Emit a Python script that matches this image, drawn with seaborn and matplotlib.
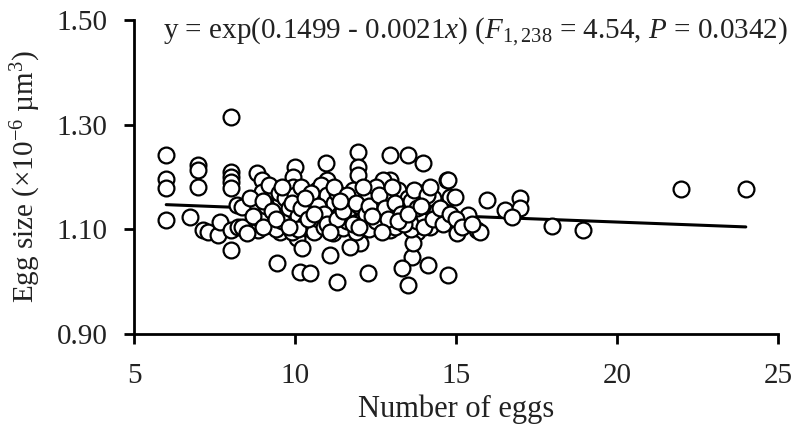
import matplotlib
matplotlib.use("Agg")
import matplotlib.pyplot as plt
import seaborn as sns
import numpy as np
import pandas as pd

# ---- data ----
egg_count = [
    6, 6, 6, 6, 6.74, 7, 7, 7, 7.14, 7.3, 7.6, 7.67,
    8, 8, 8, 8, 8, 8, 8, 8.2, 8.23,
    8.82, 8.98, 10.0, 9.94, 9.94, 10.96, 10.99, 8.98, 9.53, 8.76, 10.37, 10.56,
    9.84, 8.85, 9.53, 10.37, 11.34, 11.4, 8.35, 8.35, 10.06, 10.22, 11.09, 9.44,
    10.16, 10.47, 11.3, 10.78, 11.0, 9.3, 10.68, 11.18, 8.5, 9.16, 9.69,
    11.96, 11.96, 11.96, 12.95, 13.5, 13.98, 12.95, 12.73, 14.72, 14.81, 11.96,
    12.39, 11.77, 12.27, 13.2, 13.57, 14.25, 14.66, 12.95, 13.79, 11.49, 12.02,
    11.7, 13.63, 13.32, 14.13, 12.27, 13.5, 13.66, 12.64, 13.42, 13.98, 12.42, 12.73,
    14.75, 14.97, 15.96, 14.75, 15.37, 15.65, 15.03, 15.75, 16.52, 16.99, 16.99,
    16.74, 17.98, 18.94, 14.75, 22, 24,
    8.6, 8.9, 9.1, 9.2, 9.4, 9.5, 9.6, 9.7, 9.8, 9.9, 10.0, 10.1, 10.2, 10.3,
    10.4, 10.5, 10.6, 10.7, 10.8, 10.9, 11.0, 11.1, 11.2, 11.3, 11.4, 11.5, 11.6,
    11.7, 11.8, 11.9, 12.0, 12.1, 12.2, 12.3, 12.4, 12.5, 12.6, 12.7, 12.8, 12.9,
    13.0, 13.1, 13.2, 13.3, 13.4, 13.5, 13.6, 13.7, 13.8, 13.9, 14.0, 14.1, 14.2,
    14.3, 14.4,
    8.7, 9.0, 9.3, 9.6, 9.9, 10.1, 10.2, 10.4, 10.5, 10.7, 10.9, 11.0, 11.2, 11.3,
    11.5, 11.6, 11.8, 11.9, 12.1, 12.2, 12.3, 12.5, 12.6, 12.8, 12.9, 13.0, 13.1,
    13.3, 13.4, 13.6, 13.7, 13.8, 14.0, 14.1, 14.3, 14.5, 14.6, 14.8, 15.0, 15.2,
    15.5, 9.0, 9.4, 9.8, 10.3, 10.6, 11.1, 11.4, 12.0, 12.4, 12.7, 13.2, 13.5,
    13.9, 14.2,
]
egg_size = [
    1.242, 1.196, 1.179, 1.118, 1.124, 1.223, 1.214, 1.181, 1.099, 1.095, 1.089, 1.114,
    1.315, 1.210, 1.200, 1.191, 1.179, 1.061, 1.099, 1.147, 1.105,
    1.208, 1.194, 1.219, 1.200, 1.181, 1.227, 1.194, 1.172, 1.152, 1.137, 1.128, 1.156,
    1.112, 1.099, 1.095, 1.103, 1.141, 1.112, 1.143, 1.105, 1.084, 1.064, 1.051, 1.036,
    1.019, 1.017, 1.000, 1.156, 1.137, 1.175, 1.175, 1.093, 1.093, 1.108, 1.128,
    1.248, 1.219, 1.204, 1.242, 1.242, 1.227, 1.194, 1.194, 1.194, 1.162, 1.166,
    1.170, 1.128, 1.131, 1.141, 1.122, 1.128, 1.122, 1.099, 1.095, 1.103, 1.074,
    1.066, 1.047, 1.026, 1.032, 1.017, 0.994, 1.074, 1.156, 1.162, 1.150, 1.105, 1.118,
    1.194, 1.162, 1.156, 1.118, 1.128, 1.099, 1.093, 1.095, 1.137, 1.160, 1.141,
    1.124, 1.107, 1.099, 1.013, 1.178, 1.178,
    1.160, 1.120, 1.145, 1.185, 1.100, 1.170, 1.115, 1.160, 1.140, 1.095, 1.165, 1.125, 1.180, 1.110,
    1.150, 1.135, 1.095, 1.120, 1.185, 1.105, 1.165, 1.125, 1.150, 1.170, 1.130, 1.155, 1.115,
    1.140, 1.175, 1.095, 1.145, 1.120, 1.160, 1.100, 1.140, 1.180, 1.125, 1.150, 1.110, 1.165,
    1.135, 1.105, 1.175, 1.120, 1.145, 1.160, 1.100, 1.135, 1.115, 1.170, 1.125, 1.145, 1.105,
    1.160, 1.135,
    1.125, 1.155, 1.135, 1.180, 1.150, 1.100, 1.140, 1.120, 1.170, 1.145, 1.130, 1.110, 1.180, 1.120,
    1.135, 1.165, 1.110, 1.150, 1.180, 1.130, 1.145, 1.115, 1.165, 1.140, 1.120, 1.180, 1.150,
    1.130, 1.110, 1.155, 1.175, 1.140, 1.105, 1.165, 1.120, 1.140, 1.110, 1.130, 1.120, 1.105,
    1.110, 1.105, 1.120, 1.105, 1.160, 1.130, 1.095, 1.155, 1.105, 1.125, 1.095, 1.115, 1.130,
    1.145, 1.180,
]
fit_intercept = 0.1499
fit_slope = -0.0021
fit_range = [6, 24]
x_ticks = [5, 10, 15, 20, 25]
y_ticks = [0.90, 1.10, 1.30, 1.50]

df = pd.DataFrame({"eggs": egg_count, "size": egg_size})

sns.set_theme(style="ticks")
plt.rcParams["font.family"] = ["Liberation Serif", "DejaVu Serif"]
plt.rcParams["mathtext.fontset"] = "custom"
plt.rcParams["mathtext.rm"] = "Liberation Serif"
plt.rcParams["mathtext.it"] = "Liberation Serif:italic"

fig = plt.figure(figsize=(7.95, 4.28), dpi=100)
ax = fig.add_axes([0.1686, 0.2196, 0.81, 0.7337])

sns.scatterplot(data=df, x="eggs", y="size", ax=ax, s=130, facecolor="white",
                edgecolor="black", linewidth=1.6, zorder=3, legend=False)

fx = np.linspace(fit_range[0], fit_range[1], 100)
fy = np.exp(fit_intercept + fit_slope * fx)
sns.lineplot(x=fx, y=fy, ax=ax, color="black", linewidth=2.2, zorder=2)

ax.set_xlim(5, 25)
ax.set_ylim(0.90, 1.50)
ax.set_xticks(x_ticks)
ax.set_yticks(y_ticks)
ax.set_xticklabels([str(t) for t in x_ticks])
ax.set_yticklabels([f"{t:.2f}" for t in y_ticks])
ax.tick_params(axis="both", labelsize=21, width=2, length=7, color="black",
               direction="out", labelcolor="#222222")
ax.tick_params(axis="x", pad=14)
ax.tick_params(axis="y", pad=12)
for s in ["top", "right"]:
    ax.spines[s].set_visible(False)
for s in ["left", "bottom"]:
    ax.spines[s].set_linewidth(2)
    ax.spines[s].set_color("black")

ax.set_xlabel("Number of eggs", fontsize=22, labelpad=4, color="#222222")
ax.set_ylabel("Egg size (×10$^{-6}$ µm$^3$)", fontsize=21, labelpad=10, color="#222222")

fig.text(163 / 795, 1 - 32 / 428,
         "y = exp(0.1499 - 0.0021$x$) ($F$$_{1,238}$ = 4.54, $P$ = 0.0342)",
         fontsize=21, va="center", ha="left", color="#222222")

fig.savefig("out.png", dpi=100)
